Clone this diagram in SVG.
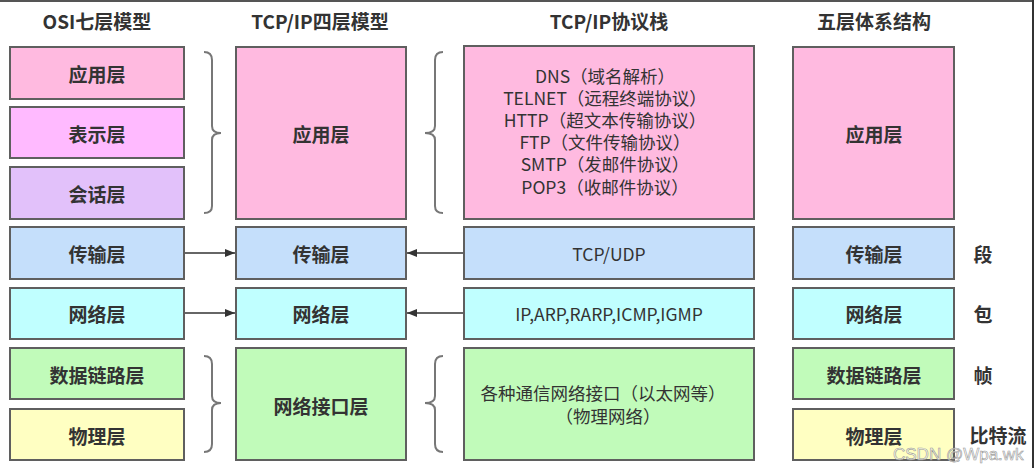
<svg xmlns="http://www.w3.org/2000/svg" width="1034" height="468" viewBox="0 0 1034 468">
<style>
.t{font-family:"Noto Sans CJK SC","Noto Sans",sans-serif;fill:#333;}
.h{font-size:19px;font-weight:bold;text-anchor:middle;}
.b{font-size:19px;font-weight:bold;text-anchor:middle;dominant-baseline:central;}
.n{font-size:17.5px;text-anchor:middle;dominant-baseline:central;}
.box{stroke:#5f5f5f;stroke-width:2;}
.app{fill:#FFBAE0;}
.pres{fill:#FFBAFF;}
.sess{fill:#E2C1FA;}
.trans{fill:#C5DFFB;}
.net{fill:#C0FFFF;}
.link{fill:#C1FBBA;}
.phy{fill:#FFFFC2;}
.brace{fill:none;stroke:#777;stroke-width:2;}
.conn{stroke:#333;stroke-width:1.5;fill:none;}
</style>
<defs>
<marker id="ah" markerWidth="10" markerHeight="8" refX="10" refY="4" orient="auto" markerUnits="userSpaceOnUse">
<path d="M0,0 L10,4 L0,8 Z" fill="#333"/>
</marker>
</defs>
<rect x="0" y="0" width="1034" height="468" fill="#fff"/>
<line x1="0" y1="1" x2="1034" y2="1" stroke="#555" stroke-width="2"/>
<line x1="1033" y1="0" x2="1033" y2="468" stroke="#333" stroke-width="2"/>

<g id="headers">
<text class="t h" x="97" y="29">OSI七层模型</text>
<text class="t h" x="320" y="29">TCP/IP四层模型</text>
<text class="t h" x="609" y="29">TCP/IP协议栈</text>
<text class="t h" x="874" y="29">五层体系结构</text>
</g>

<g id="osi-app"><rect class="box app" x="10" y="47" width="174" height="52"/><text class="t b" x="97" y="73">应用层</text></g>
<g id="osi-pres"><rect class="box pres" x="10" y="107" width="174" height="51"/><text class="t b" x="97" y="133">表示层</text></g>
<g id="osi-sess"><rect class="box sess" x="10" y="167" width="174" height="52"/><text class="t b" x="97" y="193">会话层</text></g>
<g id="osi-trans"><rect class="box trans" x="10" y="227" width="174" height="52"/><text class="t b" x="97" y="253">传输层</text></g>
<g id="osi-net"><rect class="box net" x="10" y="288" width="174" height="51"/><text class="t b" x="97" y="313">网络层</text></g>
<g id="osi-link"><rect class="box link" x="10" y="348" width="174" height="51"/><text class="t b" x="97" y="374">数据链路层</text></g>
<g id="osi-phy"><rect class="box phy" x="10" y="409" width="174" height="51"/><text class="t b" x="97" y="435">物理层</text></g>

<g id="tcp4-app"><rect class="box app" x="236" y="47" width="170" height="172"/><text class="t b" x="321" y="133">应用层</text></g>
<g id="tcp4-trans"><rect class="box trans" x="236" y="227" width="170" height="52"/><text class="t b" x="321" y="253">传输层</text></g>
<g id="tcp4-net"><rect class="box net" x="236" y="288" width="170" height="51"/><text class="t b" x="321" y="313">网络层</text></g>
<g id="tcp4-link"><rect class="box link" x="236" y="348" width="170" height="112"/><text class="t b" x="321" y="405">网络接口层</text></g>

<g id="stack-app"><rect class="box app" x="464" y="46" width="290" height="173"/>
<text class="t n" x="605" y="75">DNS（域名解析）</text>
<text class="t n" x="605" y="97">TELNET（远程终端协议）</text>
<text class="t n" x="605" y="119">HTTP（超文本传输协议）</text>
<text class="t n" x="605" y="141">FTP（文件传输协议）</text>
<text class="t n" x="605" y="163">SMTP（发邮件协议）</text>
<text class="t n" x="605" y="186">POP3（收邮件协议）</text>
</g>
<g id="stack-trans"><rect class="box trans" x="464" y="227" width="290" height="52"/><text class="t n" x="609" y="253">TCP/UDP</text></g>
<g id="stack-net"><rect class="box net" x="464" y="288" width="290" height="51"/><text class="t n" x="609" y="313">IP,ARP,RARP,ICMP,IGMP</text></g>
<g id="stack-link"><rect class="box link" x="464" y="348" width="290" height="112"/>
<text class="t n" x="603" y="392">各种通信网络接口（以太网等）</text>
<text class="t n" x="608" y="415">（物理网络）</text>
</g>

<g id="five-app"><rect class="box app" x="793" y="47" width="161" height="172"/><text class="t b" x="874" y="133">应用层</text></g>
<g id="five-trans"><rect class="box trans" x="793" y="227" width="161" height="52"/><text class="t b" x="874" y="253">传输层</text></g>
<g id="five-net"><rect class="box net" x="793" y="288" width="161" height="51"/><text class="t b" x="874" y="313">网络层</text></g>
<g id="five-link"><rect class="box link" x="793" y="348" width="161" height="51"/><text class="t b" x="874" y="374">数据链路层</text></g>
<g id="five-phy"><rect class="box phy" x="793" y="409" width="161" height="51"/><text class="t b" x="874" y="435">物理层</text></g>

<g id="units">
<text class="t b" x="983" y="253">段</text>
<text class="t b" x="983" y="313">包</text>
<text class="t b" x="983" y="374">帧</text>
<text class="t b" x="998" y="434">比特流</text>
</g>

<g id="braces">
<path class="brace" d="M204,52 Q212,52 212,60 L212,126 Q212,133 221,133 Q212,133 212,140 L212,206 Q212,213 204,213"/>
<path class="brace" d="M443,52 Q435,52 435,60 L435,126 Q435,133 425,133 Q435,133 435,140 L435,206 Q435,213 443,213"/>
<path class="brace" d="M204,356 Q212,356 212,364 L212,396 Q212,403 221,403 Q212,403 212,410 L212,444 Q212,452 204,452"/>
<path class="brace" d="M443,356 Q435,356 435,364 L435,396 Q435,403 425,403 Q435,403 435,410 L435,444 Q435,452 443,452"/>
</g>

<g id="connectors">
<line class="conn" x1="185" y1="253" x2="235" y2="253" marker-end="url(#ah)"/>
<line class="conn" x1="185" y1="313" x2="235" y2="313" marker-end="url(#ah)"/>
<line class="conn" x1="463" y1="253" x2="407" y2="253" marker-end="url(#ah)"/>
<line class="conn" x1="463" y1="313" x2="407" y2="313" marker-end="url(#ah)"/>
</g>

<text x="893" y="460" font-family="Liberation Sans, Arial, sans-serif" font-size="17" fill="#ffffff" fill-opacity="0.6" stroke="#999" stroke-width="0.6">CSDN @Wpa.wk</text>
</svg>
